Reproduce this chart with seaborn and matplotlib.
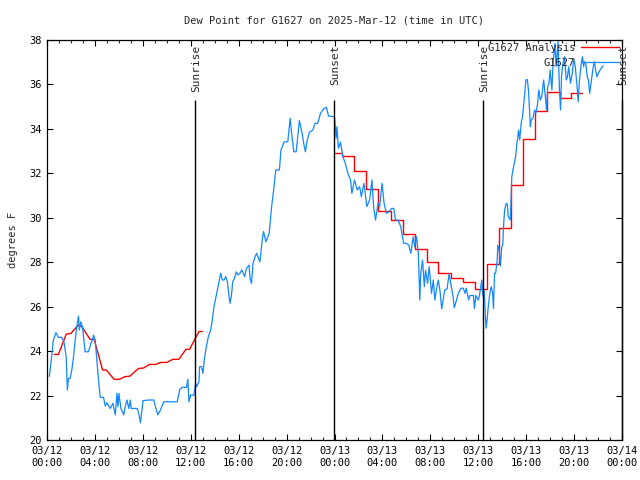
import numpy as np
import pandas as pd
import matplotlib
matplotlib.use("Agg")
import matplotlib.pyplot as plt
import seaborn as sns

# hours since 2025-03-12 00:00 UTC
obs_hours = [0.19, 0.34, 0.53, 0.75, 0.95, 1.23, 1.42, 1.6, 1.7, 1.79, 1.93, 2.07, 2.2, 2.35, 2.49,
             2.63, 2.7, 2.82, 2.96, 3.18, 3.46, 3.66, 3.8, 3.88, 4.02, 4.16, 4.3, 4.44, 4.72, 4.86,
             5.0, 5.28, 5.5, 5.7, 5.84, 5.92, 6.0, 6.17, 6.4, 6.54, 6.68, 6.82, 6.96, 7.02, 7.52,
             7.66, 7.8, 7.88, 8.02, 8.5, 8.92, 9.05, 9.25, 9.47, 9.75, 10.3, 10.87, 11.09, 11.29,
             11.65, 11.76, 11.85, 11.99, 12.27, 12.4, 12.5, 12.68, 12.74, 12.9, 13.02, 13.13, 13.3,
             13.47, 13.66, 13.8, 13.94, 14.08, 14.22, 14.36, 14.5, 14.64, 14.78, 14.92, 15.06, 15.2,
             15.28, 15.4, 15.5, 15.65, 15.8, 15.95, 16.1, 16.26, 16.4, 16.5, 16.65, 16.75, 16.87,
             16.95, 17.07, 17.2, 17.37, 17.5, 17.77, 18.0, 18.08, 18.27, 18.55, 18.75, 18.92, 19.1,
             19.4, 19.53, 19.8, 20.1, 20.3, 20.4, 20.6, 20.8, 20.93, 21.07, 21.3, 21.43, 21.57,
             21.7, 21.9, 22.19, 22.38, 22.6, 22.83, 23.1, 23.33, 23.5, 23.86, 24.0, 24.14, 24.2,
             24.33, 24.5, 24.7, 24.9, 25.12, 25.34, 25.45, 25.67, 25.9, 26.1, 26.24, 26.46, 26.7,
             26.93, 27.13, 27.26, 27.43, 27.63, 27.77, 27.97, 28.14, 28.33, 28.56, 28.75, 28.95,
             29.09, 29.3, 29.53, 29.67, 29.78, 30.0, 30.2, 30.37, 30.57, 30.7, 30.85, 31.0, 31.12,
             31.2, 31.35, 31.5, 31.6, 31.77, 31.9, 32.1, 32.25, 32.38, 32.5, 32.66, 32.8, 32.95,
             33.2, 33.4, 33.57, 33.7, 33.9, 34.0, 34.34, 34.56, 34.75, 34.9, 35.0, 35.2, 35.3, 35.6,
             35.68, 35.8, 36.0, 36.1, 36.3, 36.4, 36.5, 36.57, 36.65, 36.74, 36.86, 37.0, 37.08,
             37.2, 37.27, 37.36, 37.45, 37.58, 37.63, 37.75, 37.85, 37.95, 38.05, 38.1, 38.2, 38.33,
             38.43, 38.5, 38.67, 38.75, 38.8, 38.95, 39.1, 39.23, 39.37, 39.46, 39.6, 39.7, 39.85,
             39.98, 40.1, 40.2, 40.35, 40.42, 40.57, 40.7, 40.8, 40.94, 41.05, 41.18, 41.3, 41.46,
             41.6, 41.7, 41.8, 41.9, 42.0, 42.15, 42.24, 42.4, 42.5, 42.66, 42.78, 42.87, 42.95,
             43.06, 43.2, 43.35, 43.45, 43.55, 43.7, 43.85, 43.97, 44.1, 44.25, 44.34, 44.45, 44.6,
             44.7, 44.8, 44.86, 44.97, 45.1, 45.2, 45.3, 45.45, 45.6, 45.7, 45.8, 45.9, 46.1, 46.3,
             46.44]
obs_dewpt = [22.85, 23.52, 24.5, 24.83, 24.62, 24.62, 24.42, 23.75, 22.25, 22.77, 22.77, 23.15, 23.67,
             24.5, 25.1, 25.58, 24.95, 25.32, 25.1, 23.97, 23.97, 24.35, 24.5, 24.72, 24.5, 23.6,
             22.7, 21.92, 21.92, 21.53, 21.68, 21.42, 21.65, 21.13, 22.1, 21.5, 22.1, 21.42, 21.13,
             21.53, 21.8, 21.42, 21.8, 21.42, 21.42, 21.2, 20.78, 21.13, 21.77, 21.8, 21.8, 21.5,
             21.13, 21.35, 21.72, 21.72, 21.72, 22.28, 22.37, 22.37, 22.73, 21.72, 22.02, 22.02,
             22.55, 22.4, 22.62, 23.3, 23.3, 23.0, 23.6, 24.2, 24.65, 24.95, 25.4, 26.0, 26.37,
             26.75, 27.12, 27.5, 27.2, 27.2, 27.35, 27.12, 26.45, 26.15, 26.52, 27.12, 27.27, 27.57,
             27.42, 27.5, 27.65, 27.5, 27.35, 27.72, 27.8, 27.87, 27.27, 27.05, 27.95, 28.25, 28.4,
             28.02, 29.15, 29.38, 28.92, 29.3, 30.5, 31.25, 32.15, 32.15, 33.05, 33.42, 33.42,
             34.48, 33.9, 32.97, 32.97, 33.65, 34.37, 33.8, 33.35, 32.97, 33.42, 33.85, 33.95,
             34.25, 34.25, 34.7, 34.9, 34.97, 34.58, 34.55, 34.55, 33.58, 34.1, 33.13, 33.4, 32.75,
             32.45, 32.0, 31.7, 31.1, 31.7, 31.25, 31.4, 30.95, 31.55, 30.5, 30.8, 31.7, 30.5, 29.9,
             30.65, 30.5, 31.55, 30.65, 30.2, 30.27, 30.42, 30.42, 29.9, 29.9, 29.6, 29.15, 28.85,
             28.85, 28.77, 28.4, 29.15, 28.7, 29.15, 28.4, 26.3, 27.5, 28.1, 26.9, 27.65, 27.05,
             27.8, 26.6, 27.2, 26.3, 26.75, 27.2, 26.75, 25.9, 26.75, 26.8, 27.5, 27.05, 26.45,
             25.95, 26.6, 26.83, 26.83, 26.6, 26.83, 26.3, 26.5, 26.5, 25.92, 26.5, 26.3, 26.5,
             27.2, 26.45, 26.7, 25.85, 25.03, 25.4, 26.15, 26.7, 26.9, 26.6, 25.92, 27.5, 27.5,
             28.1, 28.77, 28.55, 27.83, 28.65, 28.8, 29.52, 30.35, 30.65, 30.6, 30.05, 29.9, 30.95,
             31.85, 32.3, 32.68, 33.35, 33.95, 33.5, 34.32, 34.55, 35.45, 36.2, 36.22, 35.7, 34.1,
             34.4, 34.48, 34.85, 34.7, 35.07, 35.75, 35.3, 35.45, 36.2, 35.45, 34.85, 35.9, 36.05,
             36.65, 35.75, 36.95, 37.85, 36.8, 37.93, 35.75, 34.85, 36.35, 36.9, 37.25, 36.2,
             36.35, 36.8, 36.05, 36.5, 37.17, 36.8, 35.9, 35.22, 36.2, 36.95, 37.25, 36.8, 37.03,
             36.95, 36.35, 36.2, 35.6, 36.2, 36.8, 37.03, 36.65, 36.35, 36.58, 36.77, 36.83]

# analysis, first day (smooth)
ana1_hours = [0.59, 0.95, 1.6, 2.0, 2.6, 2.9, 3.6, 3.94, 4.64, 4.95, 5.6, 6.03, 6.5, 6.9, 7.65,
              8.07, 8.55, 9.05, 9.5, 10.0, 10.5, 11.0, 11.6, 11.9, 12.68, 12.97]
ana1_dewpt = [23.85, 23.85, 24.76, 24.8, 25.17, 25.1, 24.53, 24.53, 23.15, 23.15, 22.73, 22.73,
              22.85, 22.87, 23.22, 23.24, 23.4, 23.4, 23.49, 23.49, 23.63, 23.63, 24.08, 24.08,
              24.88, 24.88]
# analysis, second day (hourly steps)
ana2_hours = [24.0, 24.64, 25.6, 26.65, 27.6, 28.7, 29.7, 30.7, 31.7, 32.66, 33.7, 34.76, 35.7,
              36.7, 37.7, 38.75, 39.7, 40.7, 41.7, 42.8, 43.75, 44.7]
ana2_dewpt = [32.93, 32.77, 32.12, 31.28, 30.3, 29.9, 29.25, 28.6, 28.02, 27.5, 27.27, 27.11,
              26.78, 27.92, 29.52, 31.47, 33.53, 34.82, 35.67, 35.37, 35.6, 35.6]

sun_hours = [12.32, 23.98, 36.38, 48.0]
sun_labels = ["Sunrise", "Sunset", "Sunrise", "Sunset"]

tick_hours = [0, 4, 8, 12, 16, 20, 24, 28, 32, 36, 40, 44, 48]
tick_labels = ["03/12\n00:00", "03/12\n04:00", "03/12\n08:00", "03/12\n12:00", "03/12\n16:00",
               "03/12\n20:00", "03/13\n00:00", "03/13\n04:00", "03/13\n08:00", "03/13\n12:00",
               "03/13\n16:00", "03/13\n20:00", "03/14\n00:00"]

sns.set_theme(style="ticks")
plt.rcParams['font.family'] = ['DejaVu Sans Mono']
fs = 7.5

fig = plt.figure(figsize=(6.4, 4.8), dpi=100)
ax = fig.add_axes([47 / 640, 40 / 480, 575 / 640, 400 / 480])

red = "#ff0000"
blue = "#1188ff"

sns.lineplot(x=ana1_hours, y=ana1_dewpt, color=red, lw=1.0, estimator=None, sort=False, ax=ax,
             label="G1627 Analysis")
sns.lineplot(x=ana2_hours, y=ana2_dewpt, color=red, lw=1.0, estimator=None, sort=False, ax=ax,
             drawstyle="steps-post")
sns.lineplot(x=obs_hours, y=obs_dewpt, color=blue, lw=0.9, estimator=None, sort=False, ax=ax,
             label="G1627")

for h, lab in zip(sun_hours, sun_labels):
    ax.vlines(h, 20, 35.3, color="black", lw=1.0, clip_on=False)
    ax.text(h + 0.1, 37.8, lab, rotation=90, ha="center", va="top", fontsize=8)

ax.set_xlim(0, 48)
ax.set_ylim(20, 38)
ax.set_xticks(tick_hours)
ax.set_xticklabels(tick_labels, fontsize=fs, linespacing=1.3)
ax.set_xticks(np.arange(0, 49, 1), minor=True)
ax.set_yticks(np.arange(20, 39, 2))
ax.set_yticklabels([str(v) for v in range(20, 39, 2)], fontsize=fs)
ax.tick_params(axis="both", which="major", direction="in", length=4.5, width=0.8,
               top=True, right=True, pad=4, colors="black")
ax.tick_params(axis="x", which="minor", direction="in", length=2.2, width=0.8, top=True)
for s in ax.spines.values():
    s.set_visible(True)
    s.set_color("black")
    s.set_linewidth(0.9)

ax.set_ylabel("degrees F", fontsize=fs, labelpad=8)
ax.set_xlabel("")
ax.set_title("Dew Point for G1627 on 2025-Mar-12 (time in UTC)", fontsize=fs, pad=12)

ax.legend(loc="upper right", bbox_to_anchor=(1.0, 1.0), frameon=False, markerfirst=False,
          fontsize=fs, handlelength=3.6, handletextpad=0.6, labelspacing=0.45,
          borderaxespad=0.2, borderpad=0.1)

fig.savefig("out.png", dpi=100)
